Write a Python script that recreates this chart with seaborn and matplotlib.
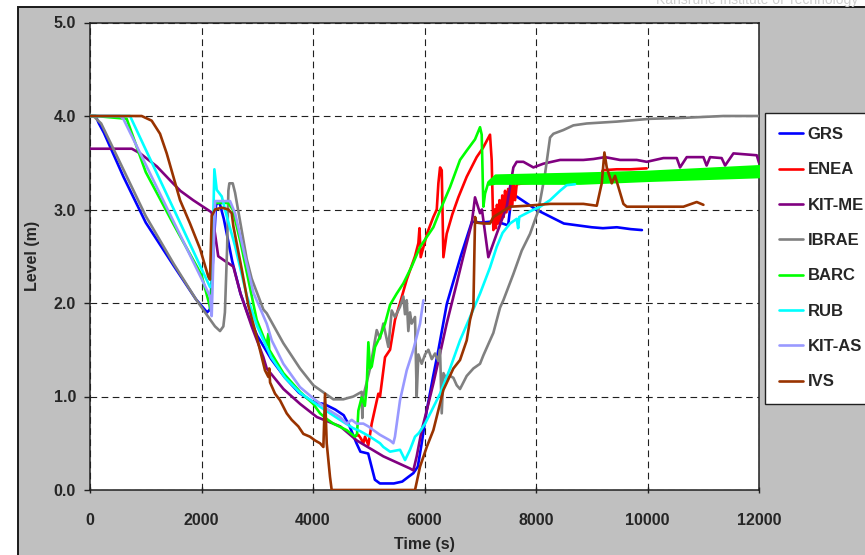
import matplotlib
matplotlib.use("Agg")
import matplotlib.pyplot as plt
from matplotlib.patches import Rectangle
import pandas as pd
import seaborn as sns

# ---------------------------------------------------------------- data
SERIES = ["GRS", "ENEA", "KIT-ME", "IBRAE", "BARC", "RUB", "KIT-AS", "IVS"]
COLORS = ["#0000ff", "#ff0000", "#800080", "#808080",
          "#00ff00", "#00ffff", "#9999ff", "#993300"]
X_TICKS = [0, 2000, 4000, 6000, 8000, 10000, 12000]
Y_TICKS = [0.0, 1.0, 2.0, 3.0, 4.0, 5.0]

GRS_T = [0, 100, 160, 250, 600, 1000, 1500, 1900, 2100, 2150, 2200, 2260, 2320,
         2400, 2550, 2700, 2850, 3000, 3250, 3500, 3750, 4000, 4200, 4400, 4550,
         4650, 4780, 4850, 4990, 5050, 5110, 5200, 5450, 5600, 5710, 5800, 5880,
         5950, 6000, 6040, 6150, 6250, 6400, 6650, 6850, 7000, 7200, 7350, 7500,
         7560, 7650, 7750, 8000, 8200, 8500, 8750, 9000, 9200, 9450, 9700, 9900]
GRS_L = [4.0, 4.0, 3.92, 3.82, 3.35, 2.86, 2.4, 2.04, 1.9, 1.93, 2.4, 3.05, 3.08,
         2.9, 2.45, 2.1, 1.85, 1.65, 1.4, 1.2, 1.04, 0.94, 0.92, 0.86, 0.8,
         0.69, 0.5, 0.41, 0.39, 0.25, 0.11, 0.07, 0.07, 0.09, 0.14, 0.18, 0.25,
         0.5, 0.7, 0.85, 1.2, 1.5, 1.99, 2.5, 2.87, 2.86, 2.87, 2.86, 2.83,
         3.13, 3.14, 3.1, 3.0, 2.94, 2.85, 2.83, 2.81, 2.8, 2.81, 2.79, 2.78]

ENEA_T = [4780, 4814, 4860, 4903, 4933, 4993, 5053, 5172, 5202, 5292, 5382,
          5471, 5561, 5681, 5830, 5890, 5910, 5932, 6050, 6159, 6220, 6249, 6279,
          6309, 6339, 6398, 6500, 6607, 6757, 6936, 7050, 7175, 7205, 7235, 7260,
          7280, 7300, 7320, 7345, 7370, 7395, 7420, 7445, 7470, 7500, 7525, 7550,
          7575, 7600, 7625, 7654, 7774, 8000, 8551, 8790, 9150, 9200, 9448, 9700,
          9986]
ENEA_L = [0.58, 0.59, 0.55, 0.5, 0.57, 0.48, 0.71, 1.03, 1.0, 1.42, 1.5,
          1.82, 2.0, 2.25, 2.5, 2.64, 2.8, 2.49, 2.75, 2.92, 3.0, 3.28, 3.45,
          3.42, 2.49, 2.74, 2.95, 3.13, 3.35, 3.56, 3.66, 3.8, 3.53, 2.78, 3.0,
          2.8, 3.05, 2.85, 3.1, 2.88, 3.15, 2.92, 3.2, 2.97, 3.22, 3.0, 3.25,
          3.05, 3.27, 3.1, 3.27, 3.28, 3.29, 3.31, 3.32, 3.34, 3.42, 3.43, 3.43,
          3.44]

KITME_T = [0, 750, 900, 1200, 1440, 1620, 1850, 2180, 2240, 2300, 2420, 2570,
           2700, 2900, 3110, 3170, 3470, 3770, 4070, 4490, 4784, 5262, 5740, 5800,
           5860, 5950, 6040, 6159, 6279, 6398, 6578, 6697, 6847, 6906, 6996, 7030,
           7145, 7295, 7475, 7594, 7654, 7774, 7953, 8133, 8432, 8850, 9030, 9239,
           9508, 9807, 9986, 10285, 10525, 10584, 10704, 11003, 11060, 11122,
           11330, 11392, 11541, 11960, 12000]
KITME_L = [3.65, 3.65, 3.6, 3.46, 3.31, 3.2, 3.1, 2.97, 2.75, 2.5, 2.45, 2.39,
           2.1, 1.75, 1.42, 1.3, 1.08, 0.92, 0.78, 0.68, 0.53, 0.36, 0.23, 0.21,
           0.36, 0.64, 0.85, 1.14, 1.46, 1.78, 2.21, 2.5, 2.85, 3.13, 2.96, 3.0,
           2.49, 2.74, 3.03, 3.45, 3.51, 3.51, 3.45, 3.49, 3.53, 3.53, 3.54, 3.56,
           3.53, 3.53, 3.51, 3.55, 3.55, 3.45, 3.56, 3.56, 3.47, 3.56,
           3.55, 3.47, 3.6, 3.58, 3.5]

IBRAE_T = [0, 60, 200, 500, 1000, 1500, 1900, 2063, 2242, 2332, 2392, 2420,
           2460, 2482, 2500, 2560, 2602, 2811, 2900, 3110, 3170, 3468, 3767, 4006,
           4245, 4365, 4544, 4724, 4843, 4873, 4885, 4900, 4963, 5023, 5083, 5143,
           5202, 5262, 5352, 5412, 5470, 5561, 5621, 5650, 5681, 5710, 5740, 5770,
           5830, 5860, 5890, 5950, 6010, 6070, 6130, 6189, 6249, 6279, 6309, 6340,
           6398, 6458, 6518, 6578, 6637, 6697, 6757, 6877, 6996, 7056, 7175, 7235,
           7355, 7415, 7594, 7744, 7893, 8043, 8162, 8252, 8312, 8491, 8671, 8910,
           9448, 10046, 10644, 11362, 12000]
IBRAE_L = [4.0, 4.0, 3.92, 3.55, 2.93, 2.42, 2.04, 1.9, 1.75, 1.7, 1.75, 1.9,
           2.6, 3.2, 3.28, 3.28, 3.18, 2.47, 2.26, 1.93, 1.89, 1.57, 1.3, 1.12,
           1.02, 0.97, 0.97, 1.0, 1.04, 1.05, 0.77, 1.0, 1.15, 1.3, 1.5, 1.71,
           1.62, 1.78, 1.53, 1.92, 1.85, 1.96, 2.07, 1.88, 2.03, 1.7, 1.9, 1.78,
           1.85, 1.0, 1.45, 1.35, 1.45, 1.5, 1.4, 1.46, 1.38, 1.5, 0.82, 1.25,
           1.18, 1.22, 1.2, 1.12, 1.08, 1.15, 1.22, 1.3, 1.35, 1.44, 1.6, 1.68,
           1.95, 2.03, 2.31, 2.56, 2.74, 2.99, 3.38, 3.77, 3.81, 3.85, 3.9, 3.92,
           3.94, 3.97, 3.98, 4.0, 4.0]

BARC_T = [0, 100, 658, 1000, 1500, 2000, 2170, 2230, 2243, 2480, 2560, 2700,
          2990, 3169, 3199, 3215, 3468, 3767, 4006, 4126, 4245, 4365, 4604, 4754,
          4790, 4814, 4873, 4930, 4963, 4993, 5023, 5053, 5113, 5202, 5292, 5382,
          5501, 5621, 5770, 5920, 6159, 6279, 6458, 6637, 6757, 6906, 6996, 7026,
          7056, 7086, 7146, 7200]
BARC_L = [4.0, 4.0, 3.97, 3.4, 2.84, 2.3, 1.92, 3.05, 3.07, 3.07, 3.0, 2.65,
          1.82, 1.55, 1.67, 1.5, 1.25, 1.05, 0.92, 0.82, 0.76, 0.71, 0.64, 0.57,
          0.6, 0.85, 0.99, 0.9, 1.1, 1.58, 1.3, 1.32, 1.53, 1.64, 1.78, 1.98,
          2.1, 2.21, 2.39, 2.6, 2.81, 2.99, 3.24, 3.53, 3.63, 3.75, 3.88, 3.8,
          3.03, 3.17, 3.29, 3.32]
# oscillation envelope of the BARC level after quench
BARC_BAND_T = [7150, 7265, 8000, 8790, 10000, 12000]
BARC_BAND_LO = [3.27, 3.28, 3.28, 3.28, 3.31, 3.35]
BARC_BAND_HI = [3.3, 3.37, 3.38, 3.39, 3.41, 3.47]

RUB_T = [0, 718, 1000, 1615, 2153, 2183, 2231, 2273, 2363, 2452, 2602, 2811,
         3000, 3250, 3500, 3767, 4126, 4485, 4724, 4843, 5023, 5202, 5262, 5382,
         5561, 5651, 5740, 5830, 5900, 6010, 6129, 6279, 6458, 6637, 6817, 6996,
         7175, 7295, 7400, 7534, 7654, 7680, 7700, 7893, 8073, 8252, 8431, 8551,
         8700]
RUB_L = [4.0, 4.0, 3.64, 2.86, 2.17, 2.18, 3.43, 3.21, 3.14, 2.93, 2.61, 2.08,
         1.75, 1.42, 1.2, 1.04, 0.89, 0.75, 0.66, 0.63, 0.57, 0.5, 0.46, 0.41,
         0.43, 0.32, 0.43, 0.57, 0.61, 0.71, 0.85, 1.03, 1.3, 1.6, 1.85, 2.1,
         2.38, 2.6, 2.75, 2.85, 2.9, 2.8, 2.92, 2.98, 3.03, 3.1, 3.2, 3.26,
         3.27]

KITAS_T = [0, 538, 598, 1000, 1500, 2000, 2153, 2183, 2243, 2512, 2602, 2931,
           3169, 3200, 3230, 3260, 3468, 3767, 4006, 4245, 4485, 4604, 4694, 4784,
           4903, 4993, 5083, 5202, 5382, 5441, 5470, 5561, 5681, 5800, 5920, 5980]
KITAS_L = [4.0, 4.0, 3.97, 3.48, 2.87, 2.26, 2.07, 1.86, 3.09, 3.09, 2.96, 2.11,
           1.78, 1.72, 1.66, 1.6, 1.35, 1.1, 0.98, 0.87, 0.78, 0.71, 0.75, 0.71,
           0.71, 0.68, 0.64, 0.59, 0.53, 0.5, 0.57, 0.96, 1.28, 1.5, 1.78, 2.03]

IVS_T = [0, 927, 1106, 1256, 1376, 1496, 1615, 1794, 1974, 2123, 2153, 2183,
         2243, 2363, 2482, 2542, 2572, 2722, 2841, 2990, 3139, 3199, 3215, 3230,
         3319, 3408, 3528, 3618, 3737, 3827, 3946, 4036, 4126, 4186, 4216, 4246,
         4305, 4335, 5830, 5920, 6040, 6159, 6339, 6518, 6637, 6757, 6817, 6877,
         6907, 6930, 7056, 7175, 7235, 7534, 7833, 8252, 8850, 9090, 9179, 9227,
         9269, 9359, 9418, 9478, 9568, 9628, 10046, 10644, 10883, 11003]
IVS_L = [4.0, 4.0, 3.95, 3.81, 3.6, 3.35, 3.1, 2.85, 2.58, 2.28, 2.25, 2.93,
         3.0, 3.02, 3.0, 2.96, 2.82, 2.36, 1.97, 1.64, 1.28, 1.21, 1.3, 1.15,
         1.03, 0.96, 0.82, 0.75, 0.68, 0.6, 0.57, 0.53, 0.5, 0.46, 1.03, 0.5,
         0.14, 0.0, 0.0, 0.25, 0.46, 0.64, 1.07, 1.3, 1.39, 1.6, 1.82, 1.96,
         2.92, 2.86, 2.85, 2.85, 2.92, 3.03, 3.04, 3.06, 3.06, 3.04, 3.28, 3.61,
         3.45, 3.28, 3.36, 3.24, 3.06, 3.03, 3.03, 3.03, 3.08, 3.05]

CURVES = {
    "GRS": (GRS_T, GRS_L), "ENEA": (ENEA_T, ENEA_L),
    "KIT-ME": (KITME_T, KITME_L), "IBRAE": (IBRAE_T, IBRAE_L),
    "BARC": (BARC_T, BARC_L), "RUB": (RUB_T, RUB_L),
    "KIT-AS": (KITAS_T, KITAS_L), "IVS": (IVS_T, IVS_L),
}

# ---------------------------------------------------------------- style
sns.set_theme(style="white")
plt.rcParams["font.family"] = ["Liberation Sans", "DejaVu Sans"]
plt.rcParams["font.weight"] = "bold"

W, H = 865, 555
fig = plt.figure(figsize=(W / 100, H / 100), dpi=100)
fig.patch.set_facecolor("white")

# grey chart area with a dark border
fig.add_artist(Rectangle((18 / W, -0.05), 1.0, 1 - 7 / H + 0.05,
                         transform=fig.transFigure, facecolor="#c0c0c0",
                         edgecolor="#1a1a1a", linewidth=1.4, zorder=-5))
fig.text(858 / W, 1 - 4 / H, "Karlsruhe Institute of Technology",
         ha="right", va="baseline", fontsize=10, fontweight="normal",
         color="#cfcfcf")

ax = fig.add_axes([90 / W, 1 - 490 / H, 669 / W, 467.5 / H])
ax.set_facecolor("white")

for i, (name, color) in enumerate(zip(SERIES, COLORS)):
    t, lv = CURVES[name]
    df = pd.DataFrame({"Time (s)": t, "Level (m)": lv})
    sns.lineplot(data=df, x="Time (s)", y="Level (m)", ax=ax, color=color,
                 linewidth=1.9, sort=False, estimator=None, label=name,
                 zorder=3 + i)
    if name == "BARC":
        ax.fill_between(BARC_BAND_T, BARC_BAND_LO, BARC_BAND_HI,
                        color=color, linewidth=1.5, edgecolor=color,
                        zorder=3 + i)

ax.set_xlim(0, 12000)
ax.set_ylim(0, 5)
ax.set_xticks(X_TICKS)
ax.set_yticks(Y_TICKS)
ax.set_xticklabels([str(v) for v in X_TICKS])
ax.set_yticklabels([f"{v:.1f}" for v in Y_TICKS])

ax.grid(True, color="#202020", linestyle=(0, (6, 4)), linewidth=0.8)
ax.set_axisbelow(True)
for s in ax.spines.values():
    s.set_color("#202020")
    s.set_linewidth(1.1)

ax.tick_params(axis="y", direction="out", length=4.5, width=1, pad=5.5,
               labelsize=11.5, color="#202020", left=True)
ax.tick_params(axis="x", direction="inout", length=5, width=1, pad=14,
               labelsize=11.5, color="#202020", bottom=True)
for lab in ax.get_xticklabels() + ax.get_yticklabels():
    lab.set_fontweight("bold")

ax.set_xlabel("Time (s)", fontsize=11.5, fontweight="bold")
ax.set_ylabel("Level (m)", fontsize=11.5, fontweight="bold")
ax.xaxis.set_label_coords(0.5, -(544 - 490) / 467.5)
ax.xaxis.label.set_va("center")
ax.yaxis.set_label_coords((32 - 90) / 669, 0.5)
ax.yaxis.label.set_va("center")

leg = ax.legend(loc="upper left", bbox_to_anchor=(765 / W, 1 - 113 / H),
                bbox_transform=fig.transFigure, borderaxespad=0,
                frameon=True, fancybox=False, shadow=False, framealpha=1,
                edgecolor="#202020", facecolor="white",
                prop={"size": 12, "weight": "bold"},
                handlelength=1.4, handletextpad=0.3, labelspacing=1.22,
                borderpad=0.85)
leg.get_frame().set_linewidth(1.0)
for ln in leg.get_lines():
    ln.set_linewidth(1.9)

fig.savefig("out.png", dpi=100, facecolor=fig.get_facecolor())
